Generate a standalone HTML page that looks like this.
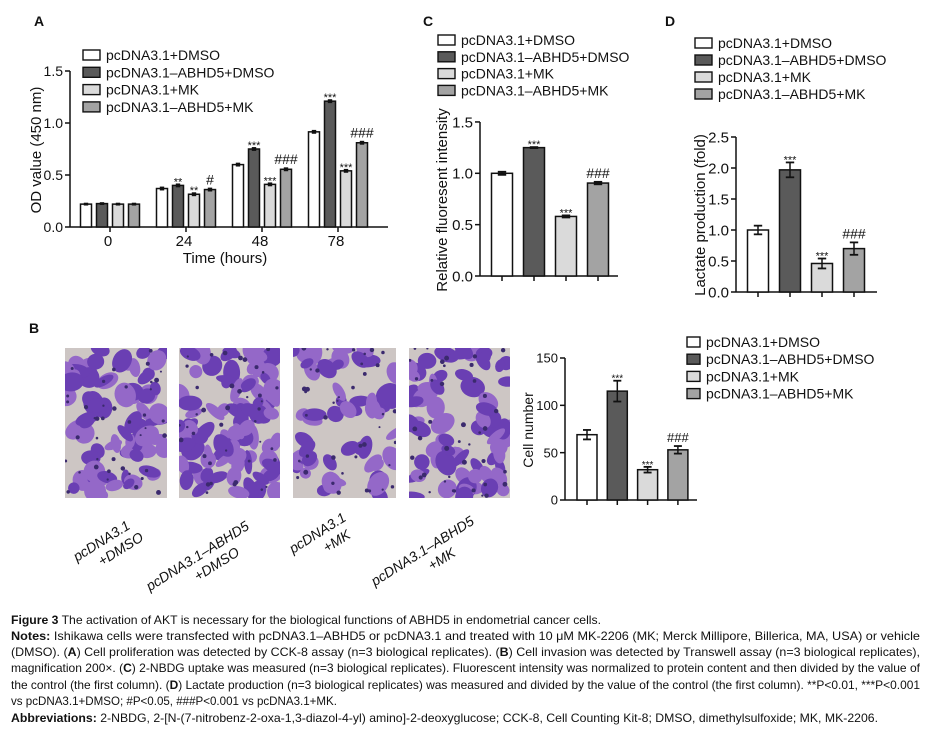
<!DOCTYPE html>
<html><head><meta charset="utf-8">
<style>
html,body{margin:0;padding:0;background:#fff;}
svg{display:block;font-family:"Liberation Sans",Arial,sans-serif;}
</style></head>
<body>
<svg id="fig" width="938" height="733" viewBox="0 0 938 733">
<defs>
<clipPath id="cp1"><rect x="65" y="348" width="102" height="150"/></clipPath>
<clipPath id="cp2"><rect x="179" y="348" width="101" height="150"/></clipPath>
<clipPath id="cp3"><rect x="293" y="348" width="103" height="150"/></clipPath>
<clipPath id="cp4"><rect x="409" y="348" width="101" height="150"/></clipPath>
</defs>
<g id="root"></g>
<g font-size="12" fill="#111">
<text x="11" y="624" textLength="590" lengthAdjust="spacingAndGlyphs"><tspan font-weight="bold">Figure 3</tspan> The activation of AKT is necessary for the biological functions of ABHD5 in endometrial cancer cells.</text>
<text x="11" y="640" textLength="909" lengthAdjust="spacingAndGlyphs"><tspan font-weight="bold">Notes:</tspan> Ishikawa cells were transfected with pcDNA3.1–ABHD5 or pcDNA3.1 and treated with 10 μM MK-2206 (MK; Merck Millipore, Billerica, MA, USA) or vehicle</text>
<text x="11" y="656" textLength="909" lengthAdjust="spacingAndGlyphs">(DMSO). (<tspan font-weight="bold">A</tspan>) Cell proliferation was detected by CCK-8 assay (n=3 biological replicates). (<tspan font-weight="bold">B</tspan>) Cell invasion was detected by Transwell assay (n=3 biological replicates),</text>
<text x="11" y="672" textLength="909" lengthAdjust="spacingAndGlyphs">magnification 200×. (<tspan font-weight="bold">C</tspan>) 2-NBDG uptake was measured (n=3 biological replicates). Fluorescent intensity was normalized to protein content and then divided by the value of</text>
<text x="11" y="689" textLength="909" lengthAdjust="spacingAndGlyphs">the control (the first column). (<tspan font-weight="bold">D</tspan>) Lactate production (n=3 biological replicates) was measured and divided by the value of the control (the first column). **P&lt;0.01, ***P&lt;0.001</text>
<text x="11" y="705" textLength="326" lengthAdjust="spacingAndGlyphs">vs pcDNA3.1+DMSO; #P&lt;0.05, ###P&lt;0.001 vs pcDNA3.1+MK.</text>
<text x="11" y="722" textLength="867" lengthAdjust="spacingAndGlyphs"><tspan font-weight="bold">Abbreviations:</tspan> 2-NBDG, 2-[N-(7-nitrobenz-2-oxa-1,3-diazol-4-yl) amino]-2-deoxyglucose; CCK-8, Cell Counting Kit-8; DMSO, dimethylsulfoxide; MK, MK-2206.</text>
</g>
</svg>
<script>
// ---- data ----
const legendLabels=['pcDNA3.1+DMSO','pcDNA3.1–ABHD5+DMSO','pcDNA3.1+MK','pcDNA3.1–ABHD5+MK'];
const A_groups=['0','24','48','78'];
const A_s1=[0.22,0.37,0.60,0.915];
const A_s2=[0.225,0.40,0.75,1.21];
const A_s3=[0.22,0.315,0.41,0.54];
const A_s4=[0.22,0.36,0.555,0.81];
const A_err=[0.005,0.01,0.01,0.01];
const A_m2=['','**','***','***'];
const A_m3=['','**','***','***'];
const A_m4=['','#','###','###'];
const A_ticks=[0,0.5,1.0,1.5];
const C_vals=[1.0,1.25,0.58,0.905];
const C_err=[0.015,0.005,0.01,0.012];
const C_marks=['','***','***','###'];
const C_ticks=[0,0.5,1.0,1.5];
const D_vals=[1.0,1.97,0.46,0.70];
const D_err=[0.07,0.12,0.08,0.10];
const D_marks=['','***','***','###'];
const D_ticks=[0,0.5,1.0,1.5,2.0,2.5];
const B_vals=[69,115,32,53];
const B_err=[5,11,3,4];
const B_marks=['','***','***','###'];
const B_ticks=[0,50,100,150];

const NS='http://www.w3.org/2000/svg';
const fills=['#ffffff','#5a5a5a','#dadada','#a3a3a3'];
const root=document.getElementById('root');
function mk(tag,attrs,parent){const e=document.createElementNS(NS,tag);for(const k in attrs)e.setAttribute(k,attrs[k]);(parent||root).appendChild(e);return e;}
function txt(x,y,s,size,parent,extra){const t=mk('text',Object.assign({x:x,y:y,'font-size':size,fill:'#111'},extra||{}),parent);t.textContent=s;return t;}

function legend(g,x0,y0,dy,size,boxW){
  for(let i=0;i<4;i++){
    const r=mk('rect',{x:x0,y:y0+i*dy-5,width:boxW,height:10,fill:fills[i],stroke:'#111','stroke-width':1.4},g);
    
    
    const t=txt(x0+boxW+6,y0+i*dy+5,legendLabels[i],size,g);
    
    
  }
}
function axisY(g,ax,yf,ticks,fmt,size,x1){
  mk('line',{x1:ax,y1:yf(ticks[0]),x2:ax,y2:yf(ticks[ticks.length-1]),stroke:'#111','stroke-width':1.5},g);
  mk('line',{x1:ax,y1:yf(ticks[0]),x2:x1,y2:yf(ticks[0]),stroke:'#111','stroke-width':1.5},g);
  ticks.forEach(v=>{
    mk('line',{x1:ax-5,y1:yf(v),x2:ax,y2:yf(v),stroke:'#111','stroke-width':1.5},g);
    const t=txt(ax-7,yf(v)+size*0.36,fmt(v),size,g,{'text-anchor':'end'});
    
    
  });
}
function bar(g,cx,w,v,e,yf,fill,mark,msize){
  const y0=yf(0),y=yf(v);
  const r=mk('rect',{x:cx-w/2,y:y,width:w,height:y0-y,fill:fill,stroke:'#111','stroke-width':1.5},g);
  
  
  const yt=yf(v+e),yb=yf(v-e),cw=Math.max(4,w*0.4);
  mk('line',{x1:cx,y1:yt,x2:cx,y2:yb,stroke:'#111','stroke-width':1.5},g);
  mk('line',{x1:cx-cw/2,y1:yt,x2:cx+cw/2,y2:yt,stroke:'#111','stroke-width':1.8},g);
  mk('line',{x1:cx-cw/2,y1:yb,x2:cx+cw/2,y2:yb,stroke:'#111','stroke-width':1.8},g);
  if(mark){
    const star=mark.indexOf('*')>=0;
    const t=txt(cx,yt-(star?3:4)+(star?4:0),mark,star?msize:msize+3,g,{'text-anchor':'middle'});
    
    
  }
}

// ---- Panel A ----
(function(){
  const g=mk('g',{});
  
  
  txt(34,26,'A',14,g,{'font-weight':'bold'});
  const yf=v=>227-v*104;
  axisY(g,70,yf,A_ticks,v=>v.toFixed(1),14,388);
  const series=[A_s1,A_s2,A_s3,A_s4],marks=[null,A_m2,A_m3,A_m4];
  const offs=[-24,-8,8,24];
  A_groups.forEach((lab,gi)=>{
    const c=110+gi*76;
    mk('line',{x1:c,y1:227,x2:c,y2:232,stroke:'#111','stroke-width':1.5},g);
    const t=txt(c-2,246,lab,15,g,{'text-anchor':'middle'});
    
    
    series.forEach((s,si)=>bar(g,c+offs[si],11,s[gi],A_err[gi],yf,fills[si],marks[si]?marks[si][gi]:'',11));
  });
  const xt=txt(225,263,'Time (hours)',15,g,{'text-anchor':'middle'});
  
  
  const yt=txt(0,0,'OD value (450 nm)',15,g,{'text-anchor':'middle',transform:'translate(41,150) rotate(-90)'});
  
  
  legend(g,83,55,17.3,14,17);
})();

// ---- Panel C ----
(function(){
  const g=mk('g',{});
  
  
  txt(423,26,'C',14,g,{'font-weight':'bold'});
  const yf=v=>276-v*102.7;
  axisY(g,480,yf,C_ticks,v=>v.toFixed(1),15,618);
  C_vals.forEach((v,i)=>{
    const c=502+i*32;
    mk('line',{x1:c,y1:276,x2:c,y2:281,stroke:'#111','stroke-width':1.5},g);
    bar(g,c,21,v,C_err[i],yf,fills[i],C_marks[i],11);
  });
  const yt=txt(0,0,'Relative fluoresent intensity',15,g,{'text-anchor':'middle',transform:'translate(447,200) rotate(-90)'});
  
  
  legend(g,438,40,16.8,14,17);
})();

// ---- Panel D ----
(function(){
  const g=mk('g',{});
  
  
  txt(665,26,'D',14,g,{'font-weight':'bold'});
  const yf=v=>292-v*62;
  axisY(g,736,yf,D_ticks,v=>v.toFixed(1),15,877);
  D_vals.forEach((v,i)=>{
    const c=758+i*32;
    mk('line',{x1:c,y1:292,x2:c,y2:297,stroke:'#111','stroke-width':1.5},g);
    bar(g,c,21,v,D_err[i],yf,fills[i],D_marks[i],11);
  });
  const yt=txt(0,0,'Lactate production (fold)',15,g,{'text-anchor':'middle',transform:'translate(705,215) rotate(-90)'});
  
  
  legend(g,695,43,17,14,17);
})();

// ---- Panel B chart ----
(function(){
  const g=mk('g',{});
  
  
  txt(29,333,'B',14,g,{'font-weight':'bold'});
  const yf=v=>500-v*(142/150);
  axisY(g,565,yf,B_ticks,v=>String(v),13,697);
  B_vals.forEach((v,i)=>{
    const c=587+i*30.3;
    mk('line',{x1:c,y1:500,x2:c,y2:505,stroke:'#111','stroke-width':1.5},g);
    bar(g,c,20,v,B_err[i],yf,fills[i],B_marks[i],10);
  });
  const yt=txt(0,0,'Cell number',14,g,{'text-anchor':'middle',transform:'translate(533,430) rotate(-90)'});
  
  
  legend(g,687,342,17.2,14,13);
})();

// ---- micrographs (decorative texture) ----
(function(){
  const photos=[[65,102,'cp1',70],[179,101,'cp2',95],[293,103,'cp3',55],[409,101,'cp4',70]];
  let seed=12345;
  function rnd(){seed=(seed*1103515245+12345)&0x7fffffff;return seed/0x7fffffff;}
  photos.forEach((p,pi)=>{
    const g=mk('g',{'clip-path':'url(#'+p[2]+')'});
    
    
    mk('rect',{x:p[0],y:348,width:p[1],height:150,fill:'#cdc6c4'},g);
    for(let k=0;k<p[3];k++){
      const cx=p[0]+rnd()*p[1],cy=348+rnd()*150,rx=5+rnd()*8,ry=4+rnd()*7;
      const col=rnd()<0.5?'#6a3fb3':'#9468c8';
      mk('ellipse',{cx:cx,cy:cy,rx:rx,ry:ry,fill:col,transform:'rotate('+Math.floor(rnd()*180)+' '+cx+' '+cy+')'},g);
    }
    for(let k=0;k<40;k++){
      mk('circle',{cx:p[0]+rnd()*p[1],cy:348+rnd()*150,r:1+rnd()*1.5,fill:'#3b2a6e'},g);
    }
  });
  const labs=[['pcDNA3.1','+DMSO',104,545],['pcDNA3.1–ABHD5','+DMSO',200,560],['pcDNA3.1','+MK',320,537],['pcDNA3.1–ABHD5','+MK',425,555]];
  labs.forEach((l,i)=>{
    const t=mk('text',{x:0,y:0,'font-size':14,'font-style':'italic',fill:'#111','text-anchor':'middle',transform:'translate('+l[2]+','+l[3]+') rotate(-32)'});
    
    
    const a=mk('tspan',{x:0,dy:0},t);a.textContent=l[0];
    const b=mk('tspan',{x:12,dy:17},t);b.textContent=l[1];
  });
})();
</script>
</body></html>
